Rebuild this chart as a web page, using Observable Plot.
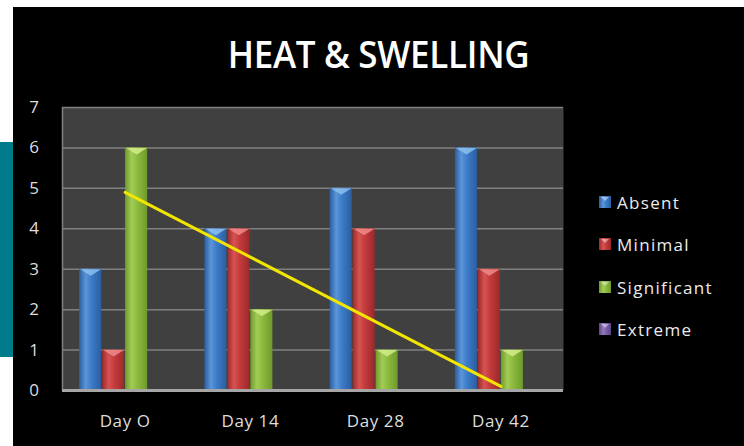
<!DOCTYPE html>
<html><head><meta charset="utf-8">
<script src="https://cdn.jsdelivr.net/npm/d3@7"></script>
<script src="https://cdn.jsdelivr.net/npm/@observablehq/plot@0.6"></script>
<style>
body{margin:0;background:#fff;}
#page{position:relative;width:744px;height:446px;overflow:hidden;background:#fff;font-family:"Open Sans",sans-serif;}
#black{position:absolute;left:13px;top:7px;right:0;bottom:0;background:#000;}
#teal{position:absolute;left:0;top:142px;width:13px;height:215px;background:#007b8c;}
#title{position:absolute;left:13px;right:0;top:27px;text-align:center;color:#fff;font-size:35px;font-weight:600;letter-spacing:-0.3px;white-space:nowrap;transform:scaleY(1.1);transform-origin:center top;}
#chart{position:absolute;left:0;top:0;}
#chart svg text{letter-spacing:0.6px;}
.leg{position:absolute;left:599px;height:20px;display:flex;align-items:center;color:#ececec;font-size:17px;letter-spacing:1.3px;white-space:nowrap;}
.sw{width:12px;height:12px;margin-right:6px;position:relative;}
.sw::after{content:"";position:absolute;left:2px;top:1px;border-left:4px solid transparent;border-right:4px solid transparent;border-top:4px solid rgba(255,255,255,0.45);}
</style>
</head><body>
<div id="page">
  <div id="black"></div>
  <div id="teal"></div>
  <div id="chart"></div>
  <div id="title">HEAT &amp; SWELLING</div>
  <div id="legend"></div>
</div>
<script>
// ---- data ----
const days = ["Day O", "Day 14", "Day 28", "Day 42"];
const seriesNames = ["Absent", "Minimal", "Significant", "Extreme"];
const absent = [3, 4, 5, 6];
const minimal = [1, 4, 4, 3];
const significant = [6, 2, 1, 1];
const extreme = [0, 0, 0, 0];
const trendDays = ["Day O", "Day 42"];
const trendValues = [4.9, 0.1];
const yTicks = [0, 1, 2, 3, 4, 5, 6, 7];

// ---- styles ----
const palette = {
  Absent:      {dark: "#2b5e9f", mid: "#3d7cc9", light: "#5b95d8", cap: "#8cc0f0"},
  Minimal:     {dark: "#9a2a2b", mid: "#c53b3c", light: "#d65352", cap: "#f08a8a"},
  Significant: {dark: "#6f9a2c", mid: "#8cbb3e", light: "#a2cc55", cap: "#d4ec8a"},
  Extreme:     {dark: "#5d4585", mid: "#7d5fa8", light: "#9479bb", cap: "#c2aee0"}
};
const STEP = 0.1835, BAR = 0.176;

const valuesBySeries = [absent, minimal, significant, extreme];
const rows = seriesNames.flatMap((s, j) => days.map((d, i) => ({series: s, day: d, i, j, value: valuesBySeries[j][i]})));
const trend = trendDays.map((d, k) => ({i: days.indexOf(d), value: trendValues[k]}));

const defs = () => {
  const g = d3.create("svg:defs");
  for (const s of seriesNames) {
    const p = palette[s];
    const lg = g.append("linearGradient").attr("id", "g-" + s).attr("x1", 0).attr("x2", 1).attr("y1", 0).attr("y2", 0);
    [[0, p.dark], [0.3, p.light], [0.55, p.mid], [1, p.dark]].forEach(([o, c]) =>
      lg.append("stop").attr("offset", o).attr("stop-color", c));
  }
  return g.node();
};

const capSymbol = {
  draw(ctx, size) {
    const r = Math.sqrt(size / Math.PI);
    ctx.moveTo(-r, 0); ctx.lineTo(r, 0); ctx.lineTo(0, r * 0.62); ctx.closePath();
  }
};

const barMarks = seriesNames.flatMap((s, j) => {
  const data = rows.filter(r => r.series === s && r.value > 0);
  return [
    Plot.rectY(data, {
      x1: r => r.i + (r.j - 1.5) * STEP - BAR / 2,
      x2: r => r.i + (r.j - 1.5) * STEP + BAR / 2,
      y1: 0, y2: "value", fill: "url(#g-" + s + ")"
    }),
    Plot.dot(data, {
      x: r => r.i + (r.j - 1.5) * STEP, y: "value",
      r: 10.5, symbol: capSymbol, fill: palette[s].cap, fillOpacity: 0.85, stroke: "none"
    })
  ];
});

const chart = Plot.plot({
  width: 744, height: 446,
  marginLeft: 62, marginRight: 181, marginTop: 107, marginBottom: 56,
  style: {background: "transparent", color: "#dedede", fontSize: "17px", fontFamily: "Open Sans, sans-serif"},
  x: {domain: [-0.5, 3.5], ticks: [0, 1, 2, 3], tickFormat: i => days[i], tickSize: 0, tickPadding: 24, label: null},
  y: {domain: [0, 7], ticks: yTicks, tickFormat: d => String(d), tickSize: 0, tickPadding: 23, label: null},
  marks: [
    defs,
    Plot.frame({fill: "#404040", stroke: "none"}),
    Plot.ruleY(yTicks.filter(t => t > 0), {stroke: "#808080", strokeWidth: 1.5}),
    Plot.ruleX([-0.5], {stroke: "#808080", strokeWidth: 1.5}),
    ...barMarks,
    Plot.ruleY([0], {stroke: "#a6a6a6", strokeWidth: 3}),
    Plot.line(trend, {x: "i", y: "value", stroke: "#f2e600", strokeWidth: 3})
  ]
});
document.getElementById("chart").appendChild(chart);

// legend
const legend = document.getElementById("legend");
const legTops = [192, 234, 277, 319];
seriesNames.forEach((s, k) => {
  const p = palette[s];
  const div = document.createElement("div");
  div.className = "leg";
  div.style.top = legTops[k] + "px";
  const sw = document.createElement("div");
  sw.className = "sw";
  sw.style.background = `linear-gradient(90deg, ${p.dark}, ${p.light} 35%, ${p.mid} 60%, ${p.dark})`;
  div.appendChild(sw);
  div.appendChild(document.createTextNode(s));
  legend.appendChild(div);
});
</script>
</body></html>
